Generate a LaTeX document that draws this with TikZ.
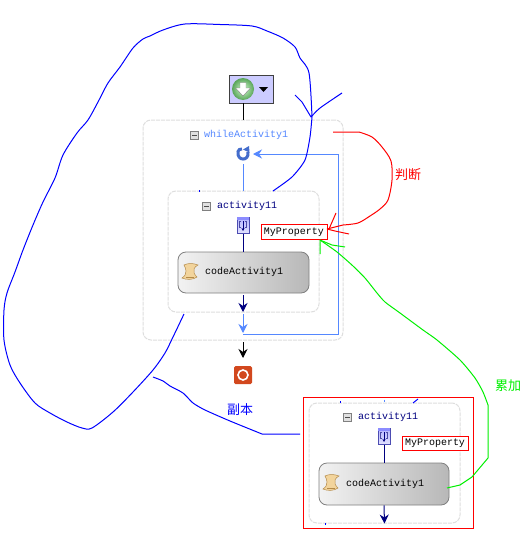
\documentclass[tikz,border=0pt]{standalone}
\usepackage{fontspec}
\setmonofont{Liberation Mono}
\newfontfamily\cjk{Noto Sans CJK SC}
\usetikzlibrary{arrows.meta}
\definecolor{wfblue}{HTML}{5588FF}
\definecolor{wfnavy}{HTML}{000080}
\definecolor{scribble}{HTML}{0000FF}
\definecolor{wfgreen}{HTML}{00F000}
\definecolor{scrolltan}{HTML}{F2D49C}
\definecolor{scrolledge}{HTML}{B48A48}
\definecolor{stopred}{HTML}{D2481E}
\tikzset{
  framebox/.style={draw=black!13, dash pattern=on 4pt off 1pt, line width=1pt, rounded corners=8pt, minimum width=#1},
  title/.style={font=\ttfamily\fontsize{10}{10}\selectfont, inner sep=0pt, anchor=west},
  minusbox/.style={draw=black!50, fill=black!12, minimum size=8pt, inner sep=0pt, outer sep=0pt},
  seqicon/.style={draw=blue!40!gray, top color=blue!30!white, bottom color=blue!12!white, minimum width=12pt, minimum height=16pt, inner sep=0pt, outer sep=1pt},
  codebox/.style={draw=black!50, line width=0.8pt, rounded corners=8pt, left color=black!5, right color=black!28, minimum height=41pt, minimum width=131pt, inner sep=0pt},
  propbox/.style={draw=red, fill=white, line width=0.8pt, font=\ttfamily\fontsize{10}{10}\selectfont, minimum width=66pt, minimum height=14.5pt, inner sep=0pt},
  flow/.style={-{Stealth[length=9pt,width=9pt,inset=3pt]}, line width=1pt},
  plain/.style={line width=1pt},
  pen/.style={line width=1pt, line join=round},
  note/.style={font=\cjk\fontsize{13}{13}\selectfont, inner sep=0pt}
}
\newcommand{\scrollicon}[1]{%
  \begin{scope}[shift={(#1)}]
    \fill[scrolltan, draw=scrolledge, line width=0.5pt] (-6,-7) .. controls (-2,-9) and (3,-9) .. (8,-7) .. controls (4,-5) and (3,-2) .. (4,1) .. controls (5,3) and (6,4) .. (7,5) .. controls (3,8) and (-4,8) .. (-8,6) .. controls (-5,4) and (-4,2) .. (-4,-1) .. controls (-4,-3) and (-5,-5) .. (-6,-7) -- cycle;
    \draw[scrolledge, line width=0.5pt] (-4,5) -- (4,5);
  \end{scope}}
\newcommand{\seqmark}[1]{%
  \fill[blue!45!white] ([shift={(-6,-8)}]#1.center) rectangle ([shift={(6,-5.5)}]#1.center);
  \draw[wfnavy!70!white, line width=0.5pt] ([shift={(-2,-4)}]#1.center) -- ++(-1.5,0) -- ++(0,6) -- ++(1.5,0) ([shift={(2,-4)}]#1.center) -- ++(1.5,0) -- ++(0,6) -- ++(-1.5,0);
  \draw[wfnavy, line width=0.7pt, -{Stealth[length=3pt,width=3pt]}] ([shift={(0,-4)}]#1.center) -- ([shift={(0,6)}]#1.center);}
\newcommand{\minusmark}[1]{\draw[black!70, line width=1pt] ([xshift=-2.5pt]#1.center) -- ([xshift=2.5pt]#1.center);}
\begin{document}
\begin{tikzpicture}[x=1pt,y=-1pt]
    \useasboundingbox (0,0) rectangle (530,546);
    \fill[white] (0,0) rectangle (530,546);
    % Marcos
    \node[framebox=200pt, minimum height=220pt] (whileframe) at (243,230) {};
    \node[framebox=151pt, minimum height=121pt] (activityframe) at (243.5,251.5) {};
    \node[framebox=151pt, minimum height=120pt] (copyframe) at (384.5,463) {};
    \node[draw=red, line width=1pt, minimum width=170pt, minimum height=131pt, inner sep=0pt] (copybox) at (388,462.5) {};
    % Inicio y fin
    \node[draw=black!75, fill=blue!20!white, line width=0.8pt, minimum width=44pt, minimum height=28pt, inner sep=0pt] (startbtn) at (251,89) {};
    \shade[inner color=green!18!white, outer color=green!45!black!65!white] (243,89) circle (11);
    \fill[white, draw=black!50, line width=0.4pt] (240,82.5) -- (246,82.5) -- (246,88) -- (250.5,88) -- (243,96) -- (235.5,88) -- (240,88) -- cycle;
    \fill[black] (259,87) -- (268,87) -- (263.5,92) -- cycle;
    \node[fill=stopred, rounded corners=1.5pt, minimum size=18pt, inner sep=0pt] (stopicon) at (243,375) {};
    \draw[white, line width=1.6pt] (stopicon.center) circle (5);
    % Titulos
    \node[minusbox] (whileminus) at (194.5,135) {};
    \minusmark{whileminus}
    \node[title, text=wfblue] (whiletitle) at (204,134.5) {whileActivity1};
    \node[minusbox] (activityminus) at (206.5,206) {};
    \minusmark{activityminus}
    \node[title, text=wfnavy] (activitytitle) at (217,205.5) {activity11};
    \node[minusbox] (copyminus) at (347.5,417) {};
    \minusmark{copyminus}
    \node[title, text=wfnavy] (copytitle) at (358,416.5) {activity11};
    % Iconos
    \node[minimum size=20pt, inner sep=0pt, outer sep=0pt] (loopicon) at (243,154) {};
    \draw[wfblue!80!black, line width=3pt] (248,152) .. controls (249.5,161.5) and (236.5,161.5) .. (238,151.5) .. controls (238.5,149.5) and (240,149) .. (242,149);
    \fill[wfblue!80!black] (243,149.5) -- (249,146) -- (249.5,152.5) -- cycle;
    \node[seqicon] (seqicon) at (243,225) {};
    \seqmark{seqicon}
    \node[seqicon] (copyseq) at (384,436) {};
    \seqmark{copyseq}
    % Actividades
    \node[codebox] (codebox) at (243.5,272.5) {};
    \node[title] (codetitle) at (205,272) {codeActivity1};
    \node[inner sep=0pt, minimum size=16pt] (scrollicon) at (190,272) {};
    \scrollicon{scrollicon.center}
    \node[codebox, minimum height=42pt, minimum width=130pt] (copycode) at (384,484) {};
    \node[title] (copytext) at (346,483.5) {codeActivity1};
    \node[inner sep=0pt, minimum size=16pt] (copyscroll) at (331,483) {};
    \scrollicon{copyscroll.center}
    \node[propbox] (prop) at (294,232) {MyProperty};
    \node[propbox] (copyprop) at (435,443.5) {MyProperty};
    % Conectores
    \coordinate (joint) at (243,334);
    \coordinate (loopcorner) at (338.5,154);
    \coordinate (jointcorner) at (338.5,334);
    \coordinate (innerend) at (243,312);
    \coordinate (outerend) at (243,333);
    \coordinate (outerstart) at (243,314);
    \coordinate (copyend) at (243,358);
    \draw[plain] (startbtn.south -| loopicon) -- (loopicon.north |- whileframe.north);
    \draw[plain, wfblue] (loopicon.south) -- (loopicon.south |- activityframe.north);
    \draw[flow, wfblue] (joint) -- (jointcorner) -- (loopcorner) -- (loopicon.east);
    \draw[plain, wfnavy] (seqicon.south) -- (codebox.north -| seqicon);
    \draw[flow, wfnavy] (codebox.south -| seqicon) ++(0,2) -- (innerend);
    \draw[flow, wfblue] (outerstart) -- (outerend);
    \draw[flow, black] (joint) ++(0,8) -- (copyend);
    \draw[plain, wfnavy] (copyseq.south) -- (copycode.north);
    \draw[flow, wfnavy] (copycode.south) -- (copyframe.south);
    % Trazos a mano
    \draw[pen, scribble] plot[smooth, tension=0.4] coordinates {(342,93) (320,108) (311,117)} -- (302,102) -- (295,95);
    \draw[pen, scribble] plot[smooth, tension=0.4] coordinates {(273,191) (292,177) (305,160) (310,137) (312,117)} plot[smooth, tension=0.5] coordinates {(312,117) (309,73) (300,58) (295,47) (283,38) (267,31) (252,26) (220,24.5) (185,24) (163,30) (150,36) (143,39) (133,48) (120,67) (108,83) (98,102) (88,120) (77,133) (63,155) (55,178) (43,202) (33,225) (23,250) (15,272) (7,293) (4,310) (4,340) (10,365) (20,383) (35,403) (50,413) (67,422) (82,428) (92,428) (113,412) (133,392) (153,370) (165,353) (173,337) (184,314)};
    \draw[pen, scribble] plot[smooth, tension=0.4] coordinates {(153,377) (163,381) (170,386) (183,393) (193,403) (205,410) (230,421) (262,434)} -- (300,434);
    \draw[pen, scribble] (413,403) -- (418,399);
    \draw[pen, scribble] (340,401) -- (340,402.5) (325,523) -- (325,525) (199,190) -- (199,191.5);
    \draw[pen, wfblue] (384,399.5) -- (384,401.5);
    \draw[pen, red] (333,132) -- (359,132) plot[smooth, tension=0.5] coordinates {(359,132) (372,137) (382,147) (391,161) (392,180) (388,200) (380,209) (370,216) (358,223) (343,225)} -- (327,229);
    \draw[pen, red] (336,213) -- (329,229) (327,229) -- (335,231) -- (349,234);
    \draw[pen, wfgreen] (320,254) -- (320,240) -- (332,245) -- (345,247);
    \draw[pen, wfgreen] plot[smooth, tension=0.4] coordinates {(320,240) (337,252) (353,266) (365,278) (377,293) (385,302) (400,313) (423,330) (437,340) (460,360) (475,378) (483,392) (488,405)} -- (488,458) -- (472,477) -- (460,485) -- (447,488);
    % Notas
    \node[note, text=red] (judgenote) at (408,174.5) {判断};
    \node[note, text=wfgreen] (sumnote) at (508,386) {累加};
    \node[note, text=scribble] (copynote) at (240,410) {副本};
\end{tikzpicture}
\end{document}
